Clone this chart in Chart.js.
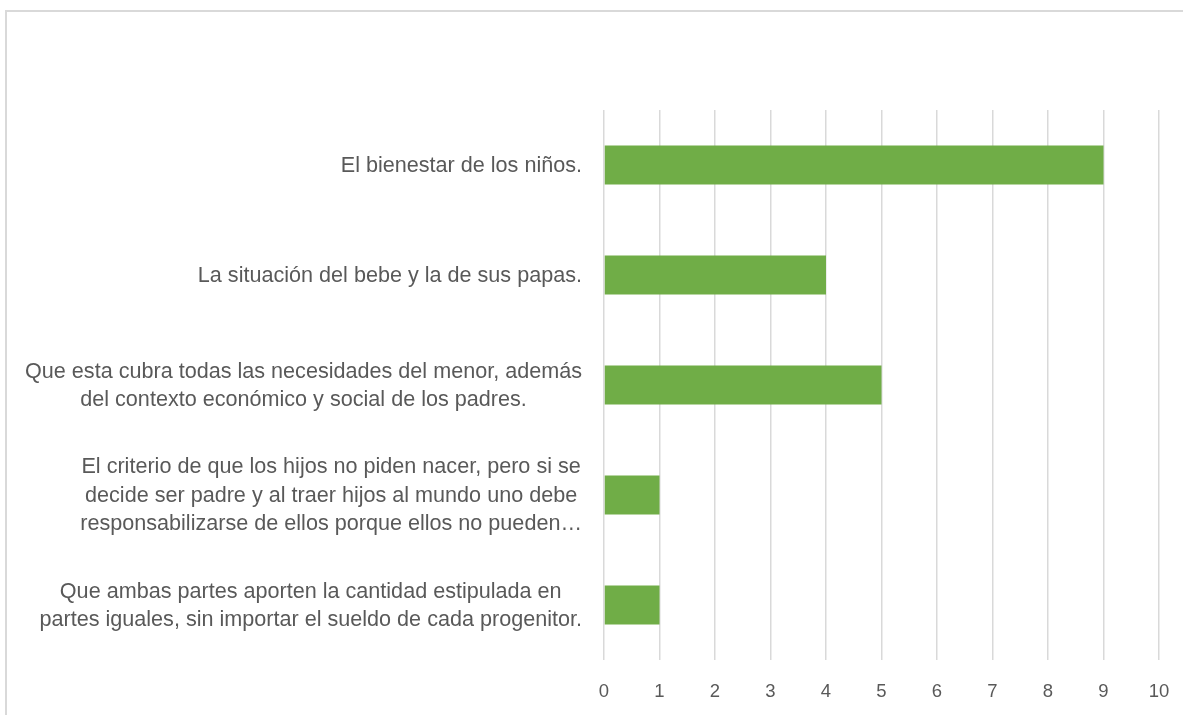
<!DOCTYPE html>
<html>
<head>
<meta charset="utf-8">
<script src="https://cdn.jsdelivr.net/npm/chart.js@4"></script>
<style>
    body { margin: 0; background: #fff; }
    #wrap { width: 1183px; height: 715px; }
</style>
</head>
<body>
<div id="wrap"><canvas id="criterioChart" width="1183" height="715"></canvas></div>
<script>
// etiquetas de cada respuesta (en varias líneas, como en el original)
const categorias = [
    ['El bienestar de los niños.'],
    ['La situación del bebe y la de sus papas.'],
    ['Que esta cubra todas las necesidades del menor, además', 'del contexto económico y social de los padres.'],
    ['El criterio de que los hijos no piden nacer, pero si se', 'decide ser padre y al traer hijos al mundo uno debe', 'responsabilizarse de ellos porque ellos no pueden…'],
    ['Que ambas partes aporten la cantidad estipulada en', 'partes iguales, sin importar el sueldo de cada progenitor.']
];
const respuestas = [9, 4, 5, 1, 1];
const ejeMin = 0;
const ejeMax = 10;

const fuente = "'Liberation Sans', Arial, sans-serif";
const gris = '#595959';

// marco gris claro alrededor del gráfico
const marcoPlugin = {
    id: 'marco',
    beforeDraw: function (chart) {
        const ctx = chart.ctx;
        ctx.save();
        ctx.strokeStyle = '#d9d9d9';
        ctx.lineWidth = 2;
        ctx.beginPath();
        ctx.moveTo(6, chart.height);
        ctx.lineTo(6, 11);
        ctx.lineTo(chart.width, 11);
        ctx.stroke();
        ctx.restore();
    }
};

// etiquetas del eje Y: bloque alineado a la derecha, líneas centradas
const etiquetasPlugin = {
    id: 'etiquetas',
    afterDraw: function (chart) {
        const ctx = chart.ctx;
        const y = chart.scales.y;
        const derecha = y.right - 22;
        const alto = 28.5;
        ctx.save();
        ctx.font = '21.6px ' + fuente;
        ctx.fillStyle = gris;
        ctx.textAlign = 'center';
        ctx.textBaseline = 'middle';
        categorias.forEach(function (lineas, i) {
            const cy = y.getPixelForTick(i) + 1;
            let ancho = 0;
            lineas.forEach(function (l) { ancho = Math.max(ancho, ctx.measureText(l).width); });
            const cx = derecha - ancho / 2;
            lineas.forEach(function (l, j) {
                ctx.fillText(l, cx, cy + (j - (lineas.length - 1) / 2) * alto);
            });
        });
        ctx.restore();
    }
};

new Chart(document.getElementById('criterioChart'), {
    type: 'bar',
    data: {
        labels: categorias,
        datasets: [{
            data: respuestas,
            backgroundColor: '#70ad47',
            borderWidth: 0,
            barPercentage: 0.355,
            categoryPercentage: 1
        }]
    },
    options: {
        indexAxis: 'y',
        responsive: false,
        animation: false,
        layout: {
            padding: { top: 110, right: 24, left: 0, bottom: 0 }
        },
        plugins: {
            legend: { display: false },
            tooltip: { enabled: false }
        },
        scales: {
            x: {
                min: ejeMin,
                max: ejeMax,
                ticks: {
                    stepSize: 1,
                    padding: 0,
                    color: gris,
                    font: { size: 18.5, family: fuente }
                },
                grid: {
                    color: '#d9d9d9',
                    lineWidth: 1.5,
                    tickLength: 21,
                    tickColor: 'rgba(0,0,0,0)'
                },
                border: { display: false },
                afterFit: function (s) { s.height = 55; }
            },
            y: {
                ticks: { display: false },
                grid: { display: false },
                border: { display: false },
                afterFit: function (s) { s.width = 604; }
            }
        }
    },
    plugins: [marcoPlugin, etiquetasPlugin]
});
</script>
</body>
</html>
